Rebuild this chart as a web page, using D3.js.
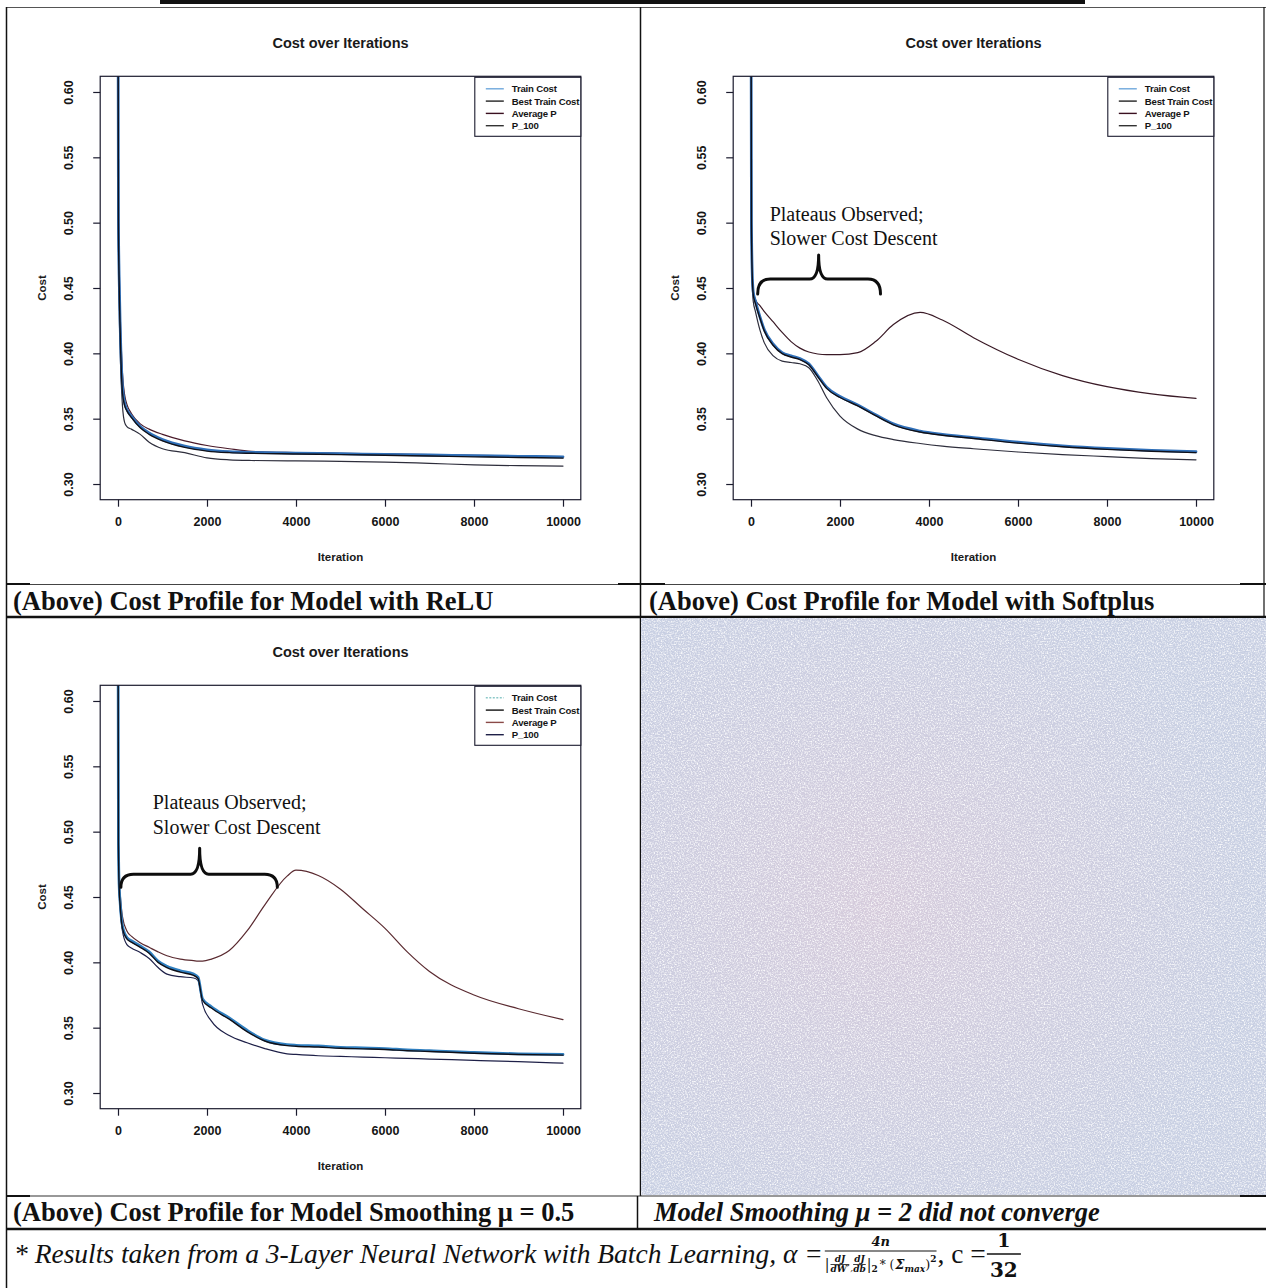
<!DOCTYPE html>
<html>
<head>
<meta charset="utf-8">
<script src="https://cdn.jsdelivr.net/npm/d3@7"></script>
<style>
  html, body { margin: 0; padding: 0; background: #fff; }
  svg { display: block; }
</style>
</head>
<body>
<script>
// ---------- Data ----------
const xTicks = [0, 2000, 4000, 6000, 8000, 10000];
const yTicks = [0.30, 0.35, 0.40, 0.45, 0.50, 0.55, 0.60];
const legendLabels = ["Train Cost", "Best Train Cost", "Average P", "P_100"];

// ReLU model
const iterA  = [0, 10, 25, 50, 100, 150, 200, 300, 500, 700, 1000, 1500, 2000, 2500, 3000, 4000, 5000, 6000, 7000, 8000, 9000, 10000];
const trainA = [0.70, 0.500, 0.460, 0.420, 0.375, 0.362, 0.357, 0.352, 0.344, 0.339, 0.334, 0.329, 0.3262, 0.3248, 0.3242, 0.3237, 0.3232, 0.3227, 0.3222, 0.3217, 0.3212, 0.3208];
const bestA  = [0.70, 0.500, 0.455, 0.415, 0.370, 0.360, 0.356, 0.351, 0.343, 0.338, 0.333, 0.328, 0.3252, 0.3240, 0.3235, 0.3230, 0.3225, 0.3220, 0.3214, 0.3208, 0.3203, 0.3198];
const avgA   = [0.70, 0.510, 0.470, 0.430, 0.385, 0.368, 0.361, 0.354, 0.346, 0.342, 0.338, 0.333, 0.3295, 0.3270, 0.3250, 0.3240, 0.3235, 0.3230, 0.3225, 0.3220, 0.3215, 0.3210];
const p100A  = [0.70, 0.490, 0.440, 0.400, 0.360, 0.347, 0.344, 0.342, 0.338, 0.332, 0.327, 0.324, 0.3200, 0.3185, 0.3180, 0.3177, 0.3173, 0.3168, 0.3158, 0.3147, 0.3140, 0.3137];

// Softplus model
const iterB  = [0, 10, 25, 50, 100, 200, 300, 500, 700, 900, 1100, 1300, 1500, 1700, 2000, 2400, 2800, 3200, 3800, 4300, 5000, 6000, 7000, 8000, 9000, 10000];
const trainB = [0.70, 0.500, 0.465, 0.447, 0.440, 0.428, 0.418, 0.407, 0.4005, 0.398, 0.396, 0.392, 0.383, 0.374, 0.367, 0.3605, 0.353, 0.346, 0.3405, 0.338, 0.3355, 0.332, 0.3292, 0.3272, 0.3258, 0.3247];
const bestB  = [0.70, 0.500, 0.463, 0.445, 0.438, 0.427, 0.417, 0.406, 0.3998, 0.3972, 0.3952, 0.3912, 0.3822, 0.3732, 0.3662, 0.3598, 0.3523, 0.3453, 0.3398, 0.3373, 0.3348, 0.3313, 0.3285, 0.3265, 0.3251, 0.3240];
const avgB   = [0.70, 0.495, 0.462, 0.447, 0.441, 0.4365, 0.432, 0.424, 0.416, 0.409, 0.404, 0.401, 0.3995, 0.399, 0.399, 0.4005, 0.409, 0.422, 0.4313, 0.4255, 0.412, 0.3955, 0.383, 0.3745, 0.369, 0.3655];
const p100B  = [0.70, 0.490, 0.455, 0.440, 0.432, 0.418, 0.408, 0.398, 0.394, 0.393, 0.392, 0.389, 0.379, 0.366, 0.352, 0.342, 0.337, 0.334, 0.331, 0.329, 0.327, 0.3245, 0.3225, 0.321, 0.3195, 0.3185];

// Model smoothing mu = 0.5
const iterC  = [0, 10, 25, 50, 100, 200, 300, 500, 700, 900, 1100, 1400, 1700, 1800, 1900, 2100, 2500, 2900, 3300, 3800, 4000, 4500, 5000, 5500, 6000, 6500, 7000, 8000, 9000, 10000];
const trainC = [0.70, 0.490, 0.460, 0.445, 0.428, 0.419, 0.4165, 0.4125, 0.408, 0.401, 0.397, 0.3935, 0.391, 0.3885, 0.372, 0.366, 0.3575, 0.348, 0.3405, 0.337, 0.3365, 0.336, 0.335, 0.3345, 0.334, 0.333, 0.3325, 0.331, 0.330, 0.3295];
const bestC  = [0.70, 0.490, 0.458, 0.443, 0.426, 0.418, 0.4155, 0.4115, 0.407, 0.400, 0.396, 0.3925, 0.390, 0.3875, 0.371, 0.365, 0.3565, 0.347, 0.3398, 0.3363, 0.3358, 0.3352, 0.3343, 0.3338, 0.3333, 0.3324, 0.3318, 0.3304, 0.3295, 0.3290];
const avgC   = [0.70, 0.492, 0.465, 0.452, 0.435, 0.424, 0.420, 0.415, 0.4115, 0.408, 0.405, 0.4025, 0.4013, 0.401, 0.401, 0.4025, 0.409, 0.424, 0.444, 0.466, 0.4705, 0.4665, 0.456, 0.441, 0.426, 0.408, 0.393, 0.375, 0.3645, 0.3562];
const p100C  = [0.70, 0.488, 0.455, 0.440, 0.424, 0.4135, 0.411, 0.4075, 0.403, 0.396, 0.391, 0.389, 0.388, 0.386, 0.368, 0.355, 0.344, 0.3385, 0.334, 0.330, 0.3295, 0.3285, 0.328, 0.3275, 0.327, 0.3265, 0.326, 0.325, 0.324, 0.3228];

// ---------- Canvas ----------
const W = 1266, H = 1288;
const svg = d3.select("body").append("svg").attr("width", W).attr("height", H);
const defs = svg.append("defs");

// grain for the empty (scanned) panel
const grain = defs.append("filter").attr("id", "grain").attr("x", 0).attr("y", 0).attr("width", "100%").attr("height", "100%");
grain.append("feTurbulence").attr("type", "fractalNoise").attr("baseFrequency", 0.7).attr("numOctaves", 2).attr("seed", 7).attr("result", "n");
grain.append("feColorMatrix").attr("type", "matrix")
  .attr("values", "0 0 0 0 1  0 0 0 0 1  0 0 0 0 1  2.6 0 0 0 -1.1");
const grainDark = defs.append("filter").attr("id", "grainDark").attr("x", 0).attr("y", 0).attr("width", "100%").attr("height", "100%");
grainDark.append("feTurbulence").attr("type", "fractalNoise").attr("baseFrequency", 0.8).attr("numOctaves", 1).attr("seed", 21).attr("result", "n");
grainDark.append("feColorMatrix").attr("type", "matrix")
  .attr("values", "0 0 0 0 0.5  0 0 0 0 0.55  0 0 0 0 0.72  0 2.2 0 0 -1.2");
const tint = defs.append("radialGradient").attr("id", "tint").attr("cx", "38%").attr("cy", "50%").attr("r", "60%");
tint.append("stop").attr("offset", "0%").attr("stop-color", "#dfc8d6").attr("stop-opacity", 0.6);
tint.append("stop").attr("offset", "100%").attr("stop-color", "#dfc8d6").attr("stop-opacity", 0);

svg.append("rect").attr("width", W).attr("height", H).attr("fill", "#fff");

// ---------- Table frame ----------
const frame = svg.append("g").attr("stroke", "#111").attr("fill", "none");
svg.append("rect").attr("x", 160).attr("y", 0).attr("width", 925).attr("height", 4).attr("fill", "#111");
frame.append("line").attr("x1", 6).attr("x2", W).attr("y1", 7.5).attr("y2", 7.5).attr("stroke-width", 1).attr("stroke", "#555");
frame.append("line").attr("x1", 6.5).attr("x2", 6.5).attr("y1", 7).attr("y2", H).attr("stroke-width", 1.5);
frame.append("line").attr("x1", 640.5).attr("x2", 640.5).attr("y1", 7).attr("y2", 1196).attr("stroke-width", 1.5);
frame.append("line").attr("x1", 1264).attr("x2", 1264).attr("y1", 7).attr("y2", 617).attr("stroke-width", 1.2);
frame.append("line").attr("x1", 6).attr("x2", W).attr("y1", 584.5).attr("y2", 584.5).attr("stroke-width", 1).attr("stroke", "#444");
[[6, 30], [618, 665], [1240, 1266]].forEach(([a, b]) =>
  frame.append("line").attr("x1", a).attr("x2", b).attr("y1", 584).attr("y2", 584).attr("stroke-width", 2));
frame.append("line").attr("x1", 6).attr("x2", W).attr("y1", 617).attr("y2", 617).attr("stroke-width", 2.5);

// empty scanned cell
svg.append("rect").attr("x", 641).attr("y", 618).attr("width", W - 641).attr("height", 577).attr("fill", "#c9d0e3");
svg.append("rect").attr("x", 641).attr("y", 618).attr("width", W - 641).attr("height", 577).attr("fill", "url(#tint)");
svg.append("rect").attr("x", 641).attr("y", 618).attr("width", W - 641).attr("height", 577).attr("filter", "url(#grainDark)").attr("opacity", 0.5);
svg.append("rect").attr("x", 641).attr("y", 618).attr("width", W - 641).attr("height", 577).attr("filter", "url(#grain)").attr("opacity", 0.9);

frame.append("line").attr("x1", 6).attr("x2", W).attr("y1", 1196).attr("y2", 1196).attr("stroke-width", 1.2).attr("stroke", "#333");
[[6, 30], [1240, 1266]].forEach(([a, b]) =>
  frame.append("line").attr("x1", a).attr("x2", b).attr("y1", 1196).attr("y2", 1196).attr("stroke-width", 2));
frame.append("line").attr("x1", 637.5).attr("x2", 637.5).attr("y1", 1196).attr("y2", 1229).attr("stroke-width", 1.5);
frame.append("line").attr("x1", 6).attr("x2", W).attr("y1", 1229).attr("y2", 1229).attr("stroke-width", 2.5);

// ---------- Captions ----------
const serif = "'Liberation Serif', 'Times New Roman', serif";
function caption(x, y, txt, italic) {
  svg.append("text").attr("x", x).attr("y", y)
    .attr("font-family", serif).attr("font-weight", "bold")
    .attr("font-style", italic ? "italic" : "normal")
    .attr("font-size", 26.5).attr("fill", "#111").text(txt);
}
caption(13, 610, "(Above) Cost Profile for Model with ReLU");
caption(649, 610, "(Above) Cost Profile for Model with Softplus");
caption(13, 1221, "(Above) Cost Profile for Model Smoothing \u03bc = 0.5");
caption(654, 1221, "Model Smoothing \u03bc = 2 did not converge", true);

// ---------- Footnote with formula ----------
const foot = svg.append("g").attr("fill", "#111");
const fBase = 1263;
const t1 = foot.append("text").attr("x", 14).attr("y", fBase)
  .attr("font-family", serif).attr("font-style", "italic").attr("font-size", 27.5)
  .text("* Results taken from a 3-Layer Neural Network with Batch Learning, \u03b1 =");
let cx = 14 + t1.node().getComputedTextLength() + 2;

// denominator built piece by piece
const den = foot.append("g");
const denBase = 1269;
let dx = cx;
function piece(txt, size, dy, opts = {}) {
  const t = den.append("text").attr("x", dx).attr("y", denBase + dy)
    .attr("font-family", opts.family || "'DejaVu Serif', serif")
    .attr("font-style", opts.italic === false ? "normal" : "italic")
    .attr("font-weight", opts.bold ? "bold" : "normal")
    .attr("font-size", size).text(txt);
  const w = t.node().getComputedTextLength();
  return { t, w };
}
function advance(txt, size, dy, opts) { const p = piece(txt, size, dy, opts); dx += p.w + (opts && opts.gap || 0); return p; }
function miniFrac(top, bot) {
  const a = piece(top, 9, -7, { bold: true });
  const b = piece(bot, 9, 3, { bold: true });
  const w = Math.max(a.w, b.w);
  a.t.attr("x", dx + (w - a.w) / 2); b.t.attr("x", dx + (w - b.w) / 2);
  den.append("line").attr("x1", dx).attr("x2", dx + w).attr("y1", denBase - 4.5).attr("y2", denBase - 4.5)
    .attr("stroke", "#111").attr("stroke-width", 0.8);
  dx += w + 1;
}
advance("|", 14, 0, { italic: false, gap: 1 });
miniFrac("dJ", "dW\u2032");
advance(",", 9, 2, { gap: 0 });
miniFrac("dJ", "db");
advance("|", 14, 0, { italic: false });
advance("2", 9, 3, { italic: false, bold: true, gap: 2 });
advance("* (", 12, 0, { italic: false, gap: 1 });
advance("\u03a3", 13, 0, { bold: true });
advance("max", 9, 3, { bold: true });
advance(")", 13, 0, { italic: false });
advance("2", 9, -7, { italic: false, bold: true });
const fracW = dx - cx;
foot.append("line").attr("x1", cx).attr("x2", cx + fracW).attr("y1", 1251).attr("y2", 1251)
  .attr("stroke", "#111").attr("stroke-width", 1.1);
foot.append("text").attr("x", cx + fracW / 2).attr("y", 1246).attr("text-anchor", "middle")
  .attr("font-family", "'DejaVu Serif', serif").attr("font-style", "italic").attr("font-weight", "bold")
  .attr("font-size", 13).text("4n");
cx += fracW + 1;
const t2 = foot.append("text").attr("x", cx).attr("y", fBase)
  .attr("font-family", serif).attr("font-size", 27.5).text(", c =");
cx += t2.node().getComputedTextLength() + 1;
const oneW = 34;
foot.append("text").attr("x", cx + oneW / 2).attr("y", 1247).attr("text-anchor", "middle")
  .attr("font-family", "'DejaVu Serif', serif").attr("font-weight", "bold").attr("font-size", 19).text("1");
foot.append("line").attr("x1", cx).attr("x2", cx + oneW).attr("y1", 1254).attr("y2", 1254)
  .attr("stroke", "#111").attr("stroke-width", 1.6);
foot.append("text").attr("x", cx + oneW / 2).attr("y", 1277).attr("text-anchor", "middle")
  .attr("font-family", "'DejaVu Serif', serif").attr("font-weight", "bold").attr("font-size", 20).text("32");

// ---------- Charts ----------
const sans = "'Liberation Sans', Arial, Helvetica, sans-serif";
const xDomain = [-400, 10400];
const yDomain = [0.288, 0.612];
const boxW = 480.6, boxH = 423.4;
let clipId = 0;

function drawChart(cfg) {
  const g = svg.append("g");
  const x = d3.scaleLinear().domain(xDomain).range([cfg.left, cfg.left + boxW]);
  const y = d3.scaleLinear().domain(yDomain).range([cfg.top + boxH, cfg.top]);
  const id = "plotclip" + (clipId++);
  defs.append("clipPath").attr("id", id).append("rect")
    .attr("x", cfg.left).attr("y", cfg.top).attr("width", boxW).attr("height", boxH);

  // title and axis titles
  g.append("text").attr("x", cfg.left + boxW / 2).attr("y", cfg.top - 28).attr("text-anchor", "middle")
    .attr("font-family", sans).attr("font-weight", "bold").attr("font-size", 14.5).attr("fill", "#1a1a1a")
    .text("Cost over Iterations");
  g.append("text").attr("x", cfg.left + boxW / 2).attr("y", cfg.top + boxH + 61).attr("text-anchor", "middle")
    .attr("font-family", sans).attr("font-weight", "bold").attr("font-size", 11.5).attr("fill", "#1a1a1a")
    .text("Iteration");
  g.append("text").attr("transform", `translate(${cfg.left - 54},${cfg.top + boxH / 2}) rotate(-90)`)
    .attr("text-anchor", "middle")
    .attr("font-family", sans).attr("font-weight", "bold").attr("font-size", 11.5).attr("fill", "#1a1a1a")
    .text("Cost");

  // axes
  const ax = g.append("g").attr("transform", `translate(0,${cfg.top + boxH})`)
    .call(d3.axisBottom(x).tickValues(xTicks).tickFormat(d3.format("d")).tickSize(7).tickPadding(10));
  ax.select(".domain").remove();
  ax.selectAll("line").attr("stroke", "#1b1b2e").attr("stroke-width", 1.2);
  ax.selectAll("text").attr("font-family", sans).attr("font-weight", "bold").attr("font-size", 12.5).attr("fill", "#151515");

  const ay = g.append("g").attr("transform", `translate(${cfg.left},0)`)
    .call(d3.axisLeft(y).tickValues(yTicks).tickFormat(d3.format(".2f")).tickSize(7));
  ay.select(".domain").remove();
  ay.selectAll("line").attr("stroke", "#1b1b2e").attr("stroke-width", 1.2);
  ay.selectAll("text")
    .attr("x", null).attr("dy", null)
    .attr("transform", "translate(-27.5,0) rotate(-90)")
    .attr("text-anchor", "middle")
    .attr("font-family", sans).attr("font-weight", "bold").attr("font-size", 12.5).attr("fill", "#151515");

  // series
  const lines = g.append("g").attr("clip-path", `url(#${id})`).attr("fill", "none")
    .attr("stroke-linejoin", "round").attr("stroke-linecap", "round");
  cfg.series.forEach(s => {
    const pts = cfg.iter.map((it, i) => [it, s.values[i]]);
    const line = d3.line().x(d => x(d[0])).y(d => y(d[1])).curve(d3.curveMonotoneX);
    lines.append("path").attr("d", line(pts))
      .attr("stroke", s.color).attr("stroke-width", s.width).attr("stroke-opacity", s.opacity || 1);
  });

  // plot box
  g.append("rect").attr("x", cfg.left).attr("y", cfg.top).attr("width", boxW).attr("height", boxH)
    .attr("fill", "none").attr("stroke", "#1b1b2e").attr("stroke-width", 1.2);

  // legend (top right)
  const lg = g.append("g");
  const R = cfg.left + boxW;
  lg.append("rect").attr("x", R - 106).attr("y", cfg.top + 1).attr("width", 106).attr("height", 59)
    .attr("fill", "#fff").attr("stroke", "#1b1b2e").attr("stroke-width", 1.1);
  legendLabels.forEach((lab, i) => {
    const yy = cfg.top + 12.5 + i * 12.3;
    const st = cfg.legend[i];
    lg.append("line").attr("x1", R - 95).attr("x2", R - 77).attr("y1", yy).attr("y2", yy)
      .attr("stroke", st.color).attr("stroke-width", 1.4).attr("stroke-dasharray", st.dash || null);
    lg.append("text").attr("x", R - 69).attr("y", yy + 3.4)
      .attr("font-family", sans).attr("font-weight", "bold").attr("font-size", 9.6).attr("fill", "#151515")
      .attr("letter-spacing", -0.2).text(lab);
  });

  // annotation: plateau brace and note
  if (cfg.brace) {
    const b = cfg.brace;
    const x1 = x(b.x1), x2 = x(b.x2), xc = x(b.xTip);
    const ye = y(b.yEnd), yh = y(b.yBar), yt = y(b.yTip);
    const r = 9;
    const p = d3.path();
    p.moveTo(x1, ye);
    p.quadraticCurveTo(x1, yh, x1 + r * 1.4, yh);
    p.lineTo(xc - r, yh);
    p.quadraticCurveTo(xc, yh, xc, yt);
    p.quadraticCurveTo(xc, yh, xc + r, yh);
    p.lineTo(x2 - r * 1.4, yh);
    p.quadraticCurveTo(x2, yh, x2, ye);
    g.append("path").attr("d", p.toString()).attr("fill", "none").attr("stroke", "#0d0d0d")
      .attr("stroke-width", 3).attr("stroke-linecap", "round").attr("stroke-linejoin", "round");
    b.note.forEach((ln, i) => {
      g.append("text").attr("x", x(b.noteX)).attr("y", y(b.noteY[i]))
        .attr("font-family", serif).attr("font-size", 20).attr("fill", "#111").text(ln);
    });
  }
}

const darkLegend = [
  { color: "#6fa8dc" }, { color: "#222" }, { color: "#3a1020" }, { color: "#333" }
];
const note = ["Plateaus Observed;", "Slower Cost Descent"];

drawChart({
  left: 100.2, top: 76.3, iter: iterA,
  series: [
    { values: p100A, color: "#2e2e3c", width: 1.2 },
    { values: avgA,  color: "#4a1a2a", width: 1.2 },
    { values: trainA, color: "#2f6fb8", width: 2.8 },
    { values: bestA, color: "#101018", width: 1.4 }
  ],
  legend: darkLegend
});

drawChart({
  left: 733.2, top: 76.3, iter: iterB,
  series: [
    { values: p100B, color: "#2e2e3c", width: 1.2 },
    { values: avgB,  color: "#3a1a26", width: 1.2 },
    { values: trainB, color: "#2f6fb8", width: 2.8 },
    { values: bestB, color: "#101018", width: 1.4 }
  ],
  legend: darkLegend,
  brace: { x1: 150, x2: 2910, xTip: 1520, yEnd: 0.4454, yBar: 0.4569, yTip: 0.4753,
           note: note, noteX: 420, noteY: [0.5015, 0.4827] }
});

drawChart({
  left: 100.2, top: 685.3, iter: iterC,
  series: [
    { values: p100C, color: "#1e2048", width: 1.2 },
    { values: avgC,  color: "#5a2a30", width: 1.2 },
    { values: trainC, color: "#2f7fc0", width: 2.8 },
    { values: bestC, color: "#101018", width: 1.4 }
  ],
  legend: [{ color: "#8cc8c8", dash: "2,1.5" }, { color: "#111" }, { color: "#8a4a48" }, { color: "#1e2048" }],
  brace: { x1: 65, x2: 3580, xTip: 1835, yEnd: 0.4575, yBar: 0.4675, yTip: 0.4873,
           note: note, noteX: 780, noteY: [0.5172, 0.4985] }
});
</script>
</body>
</html>
